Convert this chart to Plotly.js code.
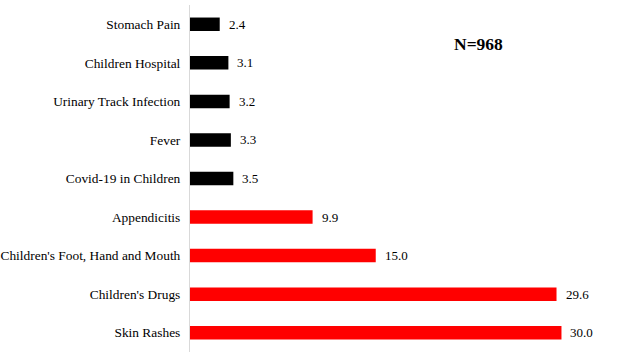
<!DOCTYPE html>
<html>
<head>
<meta charset="utf-8">
<script src="https://cdn.plot.ly/plotly-3.0.1.min.js"></script>
<style>html,body{margin:0;padding:0;background:#fff;}#chart{width:623px;height:360px;}</style>
</head>
<body>
<div id="chart"></div>
<script>
var categories = ["Stomach Pain", "Children Hospital", "Urinary Track Infection", "Fever", "Covid-19 in Children", "Appendicitis", "Children's Foot, Hand and Mouth", "Children's Drugs", "Skin Rashes"];
var values = [2.4, 3.1, 3.2, 3.3, 3.5, 9.9, 15.0, 29.6, 30.0];
var barColors = ["#000000", "#000000", "#000000", "#000000", "#000000", "#ff0000", "#ff0000", "#ff0000", "#ff0000"];
var noteText = "N=968";

var font = "Liberation Serif";

var trace = {
  type: "bar",
  orientation: "h",
  y: categories,
  x: values,
  marker: {color: barColors},
  width: 0.35,
  hoverinfo: "none"
};

var L = 190, R = 12, T = 5, B = 8, W = 623, H = 360;

var annotations = categories.map(function(c, i) {
  return {
    x: values[i], y: c, xref: "x", yref: "y",
    text: values[i].toFixed(1),
    showarrow: false, xanchor: "left", yanchor: "middle",
    xshift: 7,
    font: {family: font, size: 13, color: "#000"}
  };
});
annotations.push({
  x: (478 - L) / (W - L - R), y: 1 - (44 - T) / (H - T - B),
  xref: "paper", yref: "paper",
  xanchor: "center", yanchor: "middle",
  text: "<b>" + noteText + "</b>",
  showarrow: false,
  font: {family: font, size: 17.5, color: "#000"}
});

var layout = {
  width: W, height: H,
  margin: {l: L, r: R, t: T, b: B, pad: 0},
  paper_bgcolor: "#fff", plot_bgcolor: "#fff",
  showlegend: false,
  font: {family: font, size: 13.4, color: "#000"},
  xaxis: {range: [0, 34], visible: false, fixedrange: true},
  yaxis: {
    autorange: "reversed",
    showgrid: false, zeroline: false,
    showline: true, linecolor: "#d9d9d9", linewidth: 1,
    ticks: "outside", ticklen: 6, tickcolor: "rgba(0,0,0,0)",
    tickfont: {family: font, size: 13.4, color: "#000"},
    fixedrange: true
  },
  annotations: annotations
};

Plotly.newPlot("chart", [trace], layout, {displayModeBar: false, staticPlot: true});
</script>
</body>
</html>
